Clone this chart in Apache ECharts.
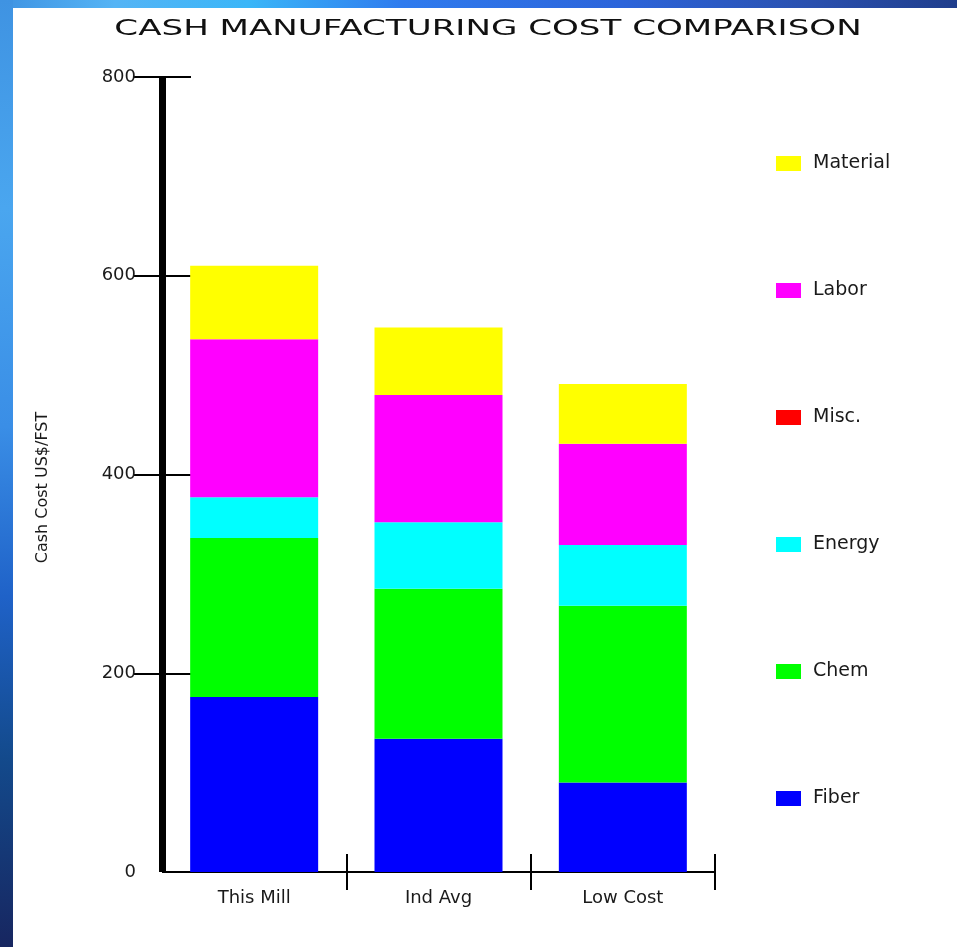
<!DOCTYPE html>
<html>
<head>
<meta charset="utf-8">
<script src="https://cdn.jsdelivr.net/npm/echarts@6/dist/echarts.min.js"></script>
<style>
  html, body { margin: 0; padding: 0; background: #fff; }
  #chart { width: 957px; height: 947px; }
</style>
</head>
<body>
<div id="chart"></div>
<script>
// Cost categories and per-component cash cost (US$/FST)
const categories = ['This Mill', 'Ind Avg', 'Low Cost'];
const fiber    = [176, 134, 90];
const chem     = [160, 151, 178];
const energy   = [41, 67, 61];
const misc     = [0, 0, 0];
const labor    = [159, 128, 102];
const material = [74, 68, 60];

const yTickValues  = [200, 400, 600, 800];
const yLabelValues = [0, 200, 400, 600, 800];
const legendOrder  = ['Material', 'Labor', 'Misc.', 'Energy', 'Chem', 'Fiber'];

const FONT = 'DejaVu Sans';

const stackSeries = [
  { name: 'Fiber',    data: fiber,    color: '#0000ff' },
  { name: 'Chem',     data: chem,     color: '#00ff00' },
  { name: 'Energy',   data: energy,   color: '#00ffff' },
  { name: 'Misc.',    data: misc,     color: '#ff0000' },
  { name: 'Labor',    data: labor,    color: '#ff00ff' },
  { name: 'Material', data: material, color: '#ffff00' }
];

const chart = echarts.init(document.getElementById('chart'), null, { renderer: 'canvas' });

const option = {
  backgroundColor: '#ffffff',
  animation: false,
  graphic: [
    // slide frame: top strip
    {
      type: 'rect', shape: { x: 0, y: 0, width: 957, height: 8 }, silent: true,
      style: {
        fill: new echarts.graphic.LinearGradient(0, 0, 1, 0, [
          { offset: 0,    color: '#3f93e2' },
          { offset: 0.12, color: '#55b4f5' },
          { offset: 0.26, color: '#3ab6f8' },
          { offset: 0.42, color: '#2f7bee' },
          { offset: 0.65, color: '#2c64da' },
          { offset: 0.85, color: '#2a50ae' },
          { offset: 1,    color: '#1f3d8c' }
        ])
      }
    },
    // slide frame: left strip
    {
      type: 'rect', shape: { x: 0, y: 0, width: 13, height: 947 }, silent: true,
      style: {
        fill: new echarts.graphic.LinearGradient(0, 0, 0, 1, [
          { offset: 0,    color: '#3f93e2' },
          { offset: 0.22, color: '#4aa6ef' },
          { offset: 0.45, color: '#3a8ee6' },
          { offset: 0.63, color: '#1f62c8' },
          { offset: 0.8,  color: '#134a8c' },
          { offset: 1,    color: '#172660' }
        ])
      }
    },
    // chart heading, drawn wide
    {
      type: 'text', x: 488, y: 29, scaleX: 1.55, silent: true,
      style: {
        text: 'CASH MANUFACTURING COST COMPARISON',
        fontFamily: FONT, fontSize: 22,
        fill: '#111', textAlign: 'center', textVerticalAlign: 'middle'
      }
    }
  ],
  legend: {
    data: legendOrder,
    orient: 'vertical',
    left: 771,
    top: 149,
    itemWidth: 25,
    itemHeight: 15,
    itemGap: 108,
    icon: 'rect',
    selectedMode: false,
    textStyle: { fontFamily: FONT, fontSize: 19, color: '#1a1a1a', padding: [0, 0, 0, 7] }
  },
  grid: { left: 162, right: 242, top: 77, bottom: 75, containLabel: false },
  xAxis: [
    {
      type: 'category', data: categories, position: 'bottom',
      axisLine: { show: true, lineStyle: { color: '#000', width: 2, cap: 'butt' } },
      axisTick: { show: true, inside: false, length: 18, interval: (i) => i !== 0,
                  lineStyle: { color: '#000', width: 2 } },
      axisLabel: { margin: 17, fontFamily: FONT, fontSize: 18, color: '#1a1a1a' },
      splitLine: { show: false }
    },
    {
      type: 'category', data: categories, position: 'bottom', offset: 0,
      axisLine: { show: false },
      axisTick: { show: true, inside: true, length: 18, interval: (i) => i !== 0,
                  lineStyle: { color: '#000', width: 2 } },
      axisLabel: { show: false },
      splitLine: { show: false }
    }
  ],
  yAxis: [
    {
      type: 'value', min: 0, max: 800, interval: 200, position: 'left',
      name: 'Cash Cost US$/FST',
      nameLocation: 'middle',
      nameGap: 111,
      nameRotate: 90,
      nameTextStyle: { fontFamily: FONT, fontSize: 16, color: '#1a1a1a', padding: [0, 26, 0, 0] },
      axisLine: { show: true, lineStyle: { color: '#000', width: 7, cap: 'butt' } },
      axisTick: { show: true, inside: false, length: 29, customValues: yTickValues,
                  lineStyle: { color: '#000', width: 2 } },
      axisLabel: { margin: 26, fontFamily: FONT, fontSize: 18, color: '#1a1a1a', customValues: yLabelValues },
      splitLine: { show: false }
    },
    {
      type: 'value', min: 0, max: 800, interval: 200, position: 'left', offset: 0,
      axisLine: { show: false },
      axisTick: { show: true, inside: true, length: 29, customValues: yTickValues,
                  lineStyle: { color: '#000', width: 2 } },
      axisLabel: { show: false },
      splitLine: { show: false }
    }
  ],
  series: stackSeries.map(s => ({
    name: s.name,
    type: 'bar',
    stack: 'cost',
    data: s.data,
    barWidth: 128,
    itemStyle: { color: s.color },
    emphasis: { disabled: true }
  }))
};

chart.setOption(option);
</script>
</body>
</html>
